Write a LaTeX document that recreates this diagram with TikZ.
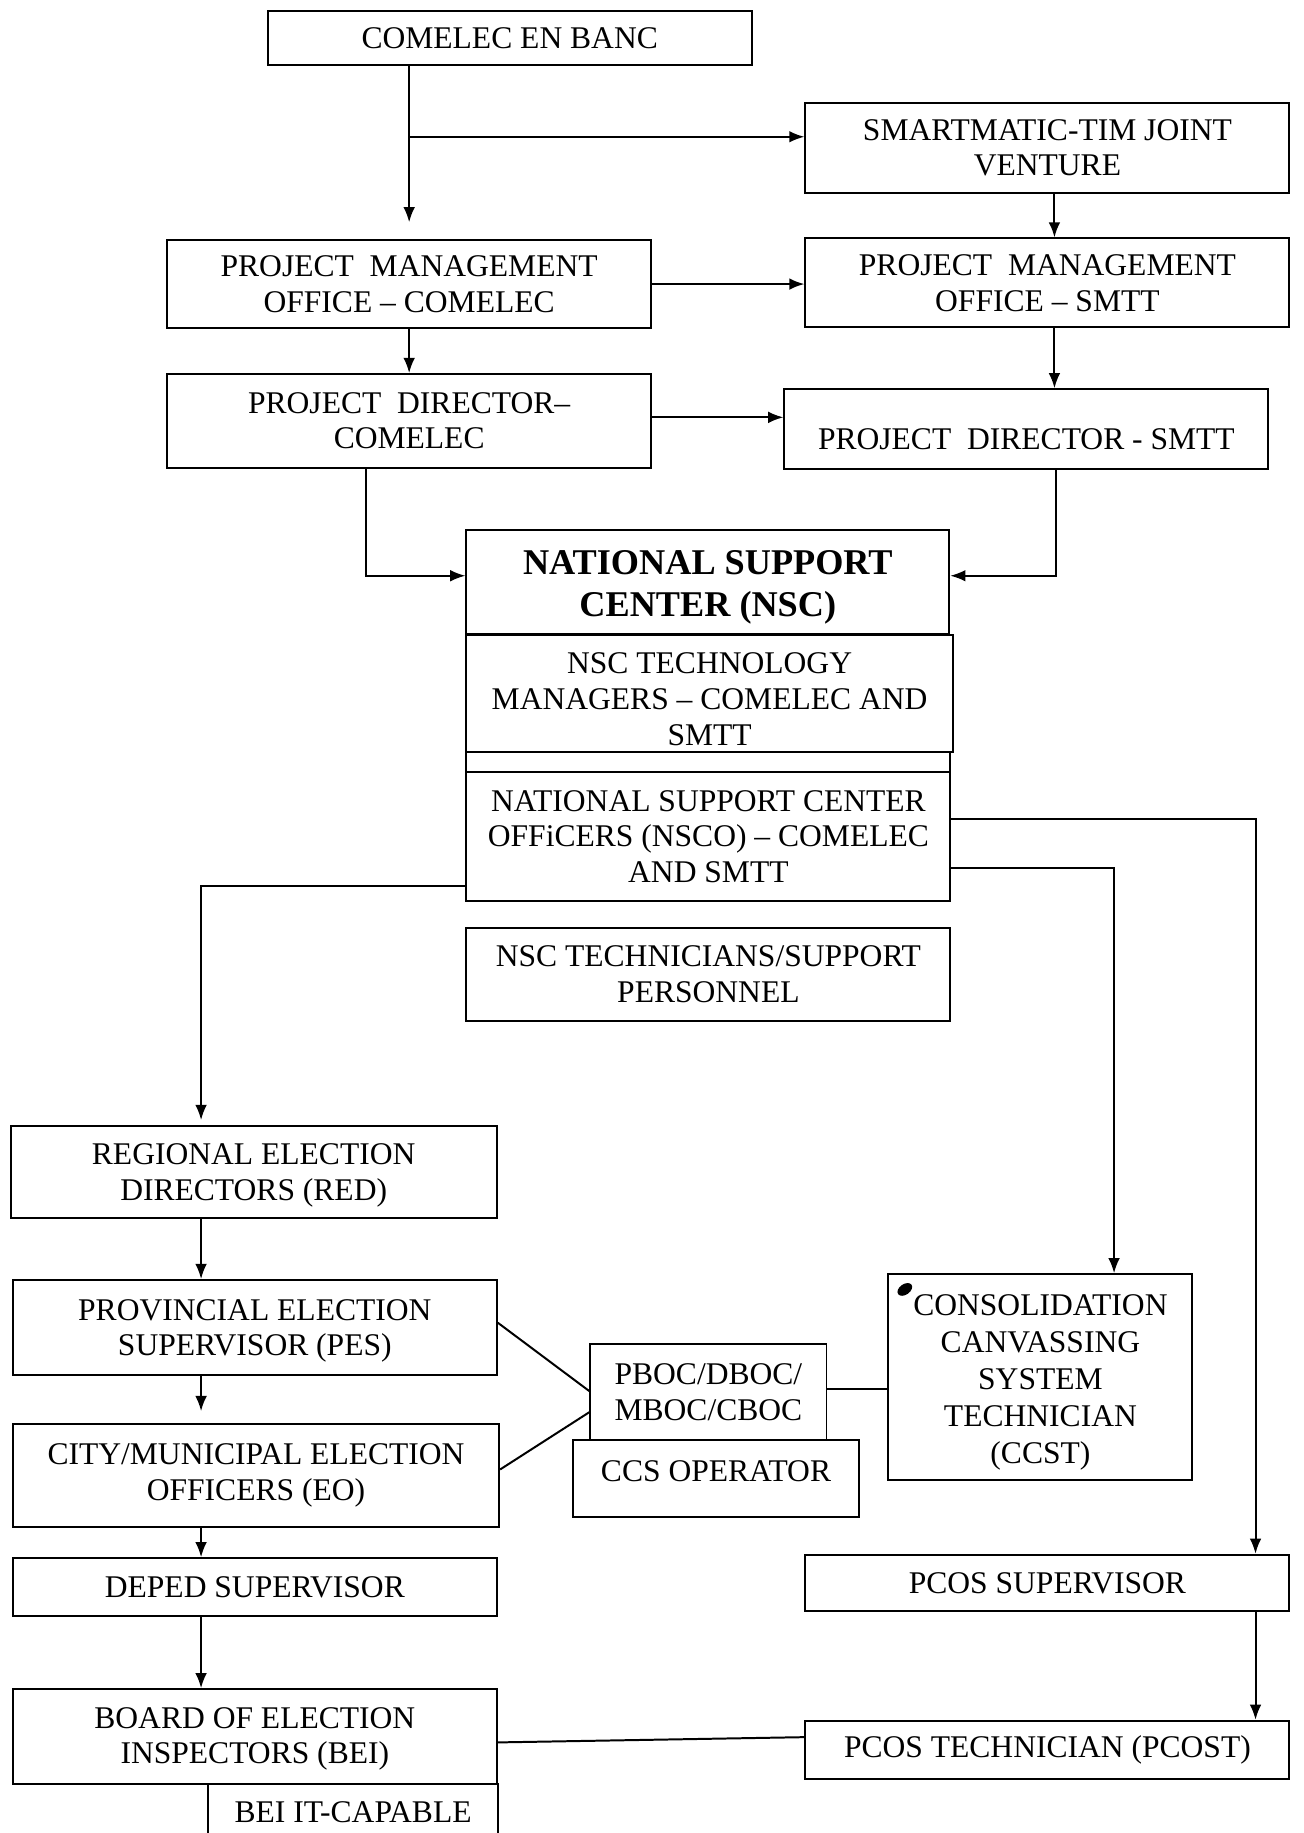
\documentclass[tikz,border=0pt]{standalone}
\usepackage{fontspec}
\setmainfont{Liberation Serif}
\usetikzlibrary{arrows.meta}

\begin{document}
\begin{tikzpicture}[x=1pt, y=-1pt]
            \tikzstyle{box}=[draw=black, line width=1.7pt, inner sep=0pt, align=center, font=\fontsize{27}{30.5}\selectfont, text=black]
            \tikzstyle{arr}=[black, line width=1.7pt, -{Latex[length=13pt, width=10pt]}]
            \tikzstyle{link}=[black, line width=1.7pt]

            \clip (0,0) rectangle (1115,1568);
            \fill[white] (0,0) rectangle (1115,1568);

            \node[box, minimum width=414pt, minimum height=47pt] (banc) at (436,32.5) {COMELEC EN BANC};
            \node[box, minimum width=414pt, minimum height=77pt] (smart) at (896,126.5) {SMARTMATIC-TIM JOINT\\VENTURE};
            \node[box, minimum width=414pt, minimum height=76pt] (pmoc) at (350,243) {PROJECT\ \ MANAGEMENT\\OFFICE -- COMELEC};
            \node[box, minimum width=414pt, minimum height=76pt] (pmos) at (896,242) {PROJECT\ \ MANAGEMENT\\OFFICE -- SMTT};
            \node[box, minimum width=414pt, minimum height=80pt] (pdc) at (350,360) {PROJECT\ \ DIRECTOR--\\COMELEC};
            \node[box, minimum width=414pt, minimum height=68pt, text height=35pt, text depth=0pt] (pds) at (878,367) {PROJECT\ \ DIRECTOR - SMTT};
            \node[box, minimum width=413pt, minimum height=89pt, font=\fontsize{31}{36}\selectfont\bfseries] (nsc) at (605.5,497.5) {\rule{0pt}{31pt}NATIONAL SUPPORT\\CENTER (NSC)};
            \node[box, minimum width=416pt, minimum height=100pt] (nsctm) at (607,593) {\rule{0pt}{28pt}NSC TECHNOLOGY\\MANAGERS -- COMELEC AND\\SMTT};
            \node[box, minimum width=414pt, minimum height=17pt] (strip) at (606,651.5) {};
            \node[box, minimum width=414pt, minimum height=111pt] (nsco) at (606,715.5) {NATIONAL SUPPORT CENTER\\OFFiCERS (NSCO) -- COMELEC\\AND SMTT};
            \node[box, minimum width=414pt, minimum height=79pt] (nsctech) at (606,833.5) {NSC TECHNICIANS/SUPPORT\\PERSONNEL};

            \node[box, minimum width=416pt, minimum height=79pt] (red) at (217,1002.5) {\rule{0pt}{24pt}REGIONAL ELECTION\\DIRECTORS (RED)};
            \node[box, minimum width=414pt, minimum height=81pt] (pes) at (218,1135.5) {\rule{0pt}{24pt}PROVINCIAL ELECTION\\SUPERVISOR (PES)};
            \node[box, minimum width=416pt, minimum height=88pt] (eo) at (219,1262) {CITY/MUNICIPAL ELECTION\\OFFICERS (EO)};
            \node[box, minimum width=414pt, minimum height=49pt] (deped) at (218,1357.5) {DEPED SUPERVISOR};
            \node[box, minimum width=414pt, minimum height=81pt] (bei) at (218,1485.5) {\rule{0pt}{22pt}BOARD OF ELECTION\\INSPECTORS (BEI)};
            \node[box, minimum width=248pt, minimum height=74pt, text depth=26pt] (beiit) at (302,1563) {BEI IT-CAPABLE};

            \node[box, minimum width=202pt, minimum height=82pt] (boc) at (606,1191) {PBOC/DBOC/\\MBOC/CBOC};
            \node[box, minimum width=245pt, minimum height=66pt, text depth=14pt] (ccsop) at (612.5,1265) {CCS OPERATOR};
            \node[box, minimum width=260pt, minimum height=176pt, font=\fontsize{27}{31.75}\selectfont] (ccst) at (890,1178) {\rule{0pt}{27pt}CONSOLIDATION\\CANVASSING\\SYSTEM\\TECHNICIAN\\(CCST)};
            \node[box, minimum width=414pt, minimum height=48pt] (pcossup) at (896,1354) {PCOS SUPERVISOR};
            \node[box, minimum width=414pt, minimum height=50pt] (pcost) at (896,1497) {PCOS TECHNICIAN (PCOST)};

            \fill[rotate around={35:(774,1103)}] (774,1103) ellipse (7 and 4.5);

            \coordinate (split) at (350,117);
            \coordinate (lcol) at (172,0);
            \coordinate (rcol) at (1074,0);

            \draw[arr, shorten >=14pt] (banc.south -| pmoc.north) -- (pmoc.north);
            \draw[arr] (split) -- (split -| smart.west);
            \draw[arr] ([xshift=6pt]smart.south) -- ([xshift=6pt]pmos.north);
            \draw[arr] (pmoc.east) -- (pmoc.east -| pmos.west);
            \draw[arr] (pmoc.south) -- (pdc.north);
            \draw[arr] ([xshift=6pt]pmos.south) -- ([xshift=6pt]pmos.south |- pds.north);
            \draw[arr] ([yshift=3pt]pdc.east) -- ([yshift=3pt]pdc.east -| pds.west);
            \draw[arr] ([xshift=-37pt]pdc.south) |- ([yshift=5pt]nsc.west);
            \draw[arr] ([xshift=25pt]pds.south) |- ([yshift=5pt]nsc.east);
            \draw[arr, shorten >=4pt] ([yshift=-42pt]nsco.west) -| (red.north -| lcol);
            \draw[arr] ([yshift=15pt]nsco.east) -| (pcossup.north -| rcol);
            \draw[arr] ([yshift=-27pt]nsco.east) -| ([xshift=63pt]ccst.north);
            \draw[arr] (red.south -| lcol) -- (pes.north -| lcol);
            \draw[arr, shorten >=10pt] (pes.south -| lcol) -- (eo.north -| lcol);
            \draw[arr] (eo.south -| lcol) -- (deped.north -| lcol);
            \draw[arr] (deped.south -| lcol) -- (bei.north -| lcol);
            \draw[arr] (pcossup.south -| rcol) -- (pcost.north -| rcol);

            \draw[link] ([yshift=4pt]pes.east) -- ([yshift=1pt]boc.west);
            \draw[link] ([yshift=5pt]eo.east) -- ([yshift=-17pt]boc.west);
            \draw[link] ([yshift=3pt]boc.east) -- ([yshift=3pt]boc.east -| ccst.west);
            \draw[link] ([yshift=-5pt]bei.east) -- ([yshift=11pt]pcost.west);
\end{tikzpicture}
\end{document}
